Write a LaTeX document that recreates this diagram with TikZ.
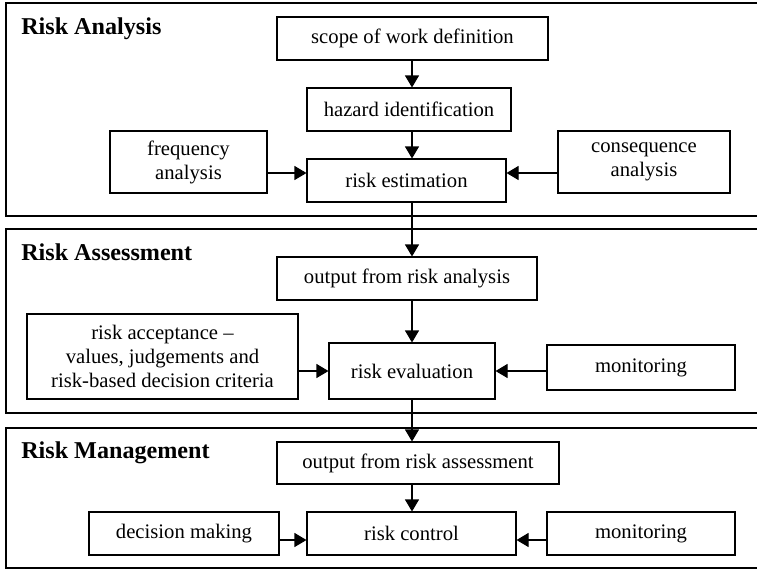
\documentclass[tikz,border=0pt]{standalone}
\usepackage{fontspec}
\setmainfont{Liberation Serif}
\usetikzlibrary{arrows.meta}
\begin{document}
\begin{tikzpicture}[x=0.75pt,y=-0.75pt,
  box/.style={draw,line width=0.8pt,rectangle,inner sep=0pt,align=center,
    font=\fontsize{15.5}{18}\selectfont},
  panel/.style={draw,line width=1.1pt},
  ptitle/.style={anchor=base west,inner sep=0pt,font=\fontsize{18.1}{21}\selectfont\bfseries},
  arr/.style={line width=0.8pt,-{Triangle[length=9pt,width=10.5pt]}}]
\useasboundingbox (0,0) rectangle (757,569);
% panels
\draw[panel] (765,3) -- (6,3) -- (6,216) -- (765,216);
\draw[panel] (765,229) -- (6,229) -- (6,413) -- (765,413);
\draw[panel] (765,428) -- (6,428) -- (6,568) -- (765,568);
\node[ptitle] (t1) at (21,34) {Risk Analysis};
\node[ptitle] (t2) at (21,260) {Risk Assessment};
\node[ptitle] (t3) at (21,458) {Risk Management};
\coordinate (ax) at (412,0);
% panel 1
\node[box,minimum width=271*0.75pt,minimum height=43*0.75pt] (scope) at (412.5,38.5) {scope of work definition};
\node[box,minimum width=204*0.75pt,minimum height=43*0.75pt] (haz) at (409,109.5) {hazard identification};
\node[box,minimum width=157*0.75pt,minimum height=62*0.75pt] (freq) at (188.5,162) {frequency\\analysis};
\node[box,minimum width=199*0.75pt,minimum height=43*0.75pt] (est) at (406.5,180.5) {risk estimation};
\node[box,minimum width=172*0.75pt,minimum height=62*0.75pt] (cons) at (644,162) {consequence\\analysis};
% panel 2
\node[box,minimum width=260*0.75pt,minimum height=43*0.75pt] (outA) at (407,278.5) {output from risk analysis};
\node[box,minimum width=271*0.75pt,minimum height=85*0.75pt] (acc) at (162.5,356.5) {risk acceptance --\\values, judgements and\\risk-based decision criteria};
\node[box,minimum width=166*0.75pt,minimum height=56*0.75pt] (eval) at (412,371) {risk evaluation};
\node[box,minimum width=188*0.75pt,minimum height=45*0.75pt] (mon1) at (641,367.5) {monitoring};
% panel 3
\node[box,minimum width=282*0.75pt,minimum height=42*0.75pt] (outM) at (418,463) {output from risk assessment};
\node[box,minimum width=190*0.75pt,minimum height=43*0.75pt] (dec) at (184,533.5) {decision making};
\node[box,minimum width=209*0.75pt,minimum height=43*0.75pt] (ctrl) at (411.5,533.5) {risk control};
\node[box,minimum width=188*0.75pt,minimum height=43*0.75pt] (mon2) at (641,533.5) {monitoring};
% arrows
\coordinate (y1) at (0,173);
\coordinate (y2) at (0,371);
\coordinate (y3) at (0,540);
\draw[arr] (scope.south -| ax) -- (haz.north -| ax);
\draw[arr] (haz.south -| ax) -- (est.north -| ax);
\draw[arr] (freq.east |- y1) -- (est.west |- y1);
\draw[arr] (cons.west |- y1) -- (est.east |- y1);
\draw[arr] (est.south -| ax) -- (outA.north -| ax);
\draw[arr] (outA.south -| ax) -- (eval.north -| ax);
\draw[arr] (acc.east |- y2) -- (eval.west |- y2);
\draw[arr] (mon1.west |- y2) -- (eval.east |- y2);
\draw[arr] (eval.south -| ax) -- (outM.north -| ax);
\draw[arr] (outM.south -| ax) -- (ctrl.north -| ax);
\draw[arr] (dec.east |- y3) -- (ctrl.west |- y3);
\draw[arr] (mon2.west |- y3) -- (ctrl.east |- y3);
\end{tikzpicture}
\end{document}
